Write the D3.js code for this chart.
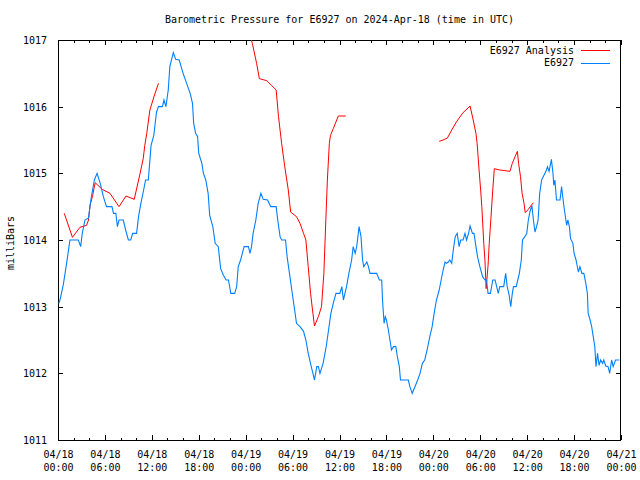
<!DOCTYPE html>
<html><head><meta charset="utf-8">
<script src="https://cdn.jsdelivr.net/npm/d3@7"></script>
<style>
body{margin:0;background:#fff;}
svg{display:block;}
text{font-family:"DejaVu Sans Mono","Liberation Mono",monospace;font-size:10px;fill:#000;}
</style></head><body>
<svg id="chart" width="640" height="480"></svg>
<script>
// ---- data (hours since 2024-04-18 00:00 UTC, pressure in mb) ----
const seriesNames = ["E6927 Analysis", "E6927"];
const blueHours = [0.1,0.25,0.68,1.1,1.53,2.6,2.9,3.1,3.45,3.9,4.2,4.65,5.0,5.4,5.8,6.2,6.9,7.1,7.4,7.6,7.8,8.35,8.65,9.0,9.3,9.55,10.05,10.3,10.6,10.9,11.2,11.55,11.7,11.9,12.25,12.6,12.85,13.35,13.55,13.8,14.1,14.3,14.75,15.05,15.5,16.0,16.45,16.9,17.2,17.35,17.6,17.85,18.0,18.4,18.6,18.9,19.2,19.4,19.8,20.1,20.5,20.8,21.15,21.5,21.8,22.1,22.6,22.85,23.05,23.35,23.8,24.35,24.55,24.75,24.95,25.3,25.6,25.95,26.25,26.8,27.2,27.9,28.1,28.4,28.6,29.1,29.3,29.6,29.9,30.2,30.5,30.95,31.4,31.7,32.0,32.35,32.6,32.8,33.1,33.3,33.5,33.9,34.3,34.6,34.9,35.2,35.55,36.05,36.3,36.5,36.9,37.2,37.55,37.75,38.0,38.2,38.4,38.5,38.75,38.95,39.1,39.5,39.7,39.9,40.75,41.1,41.4,41.5,41.7,41.85,42.0,42.25,42.45,42.65,42.9,43.2,43.4,43.65,43.8,44.8,45.0,45.3,45.65,46.0,46.3,46.6,46.9,47.2,47.55,47.85,48.1,48.4,48.75,49.0,49.25,49.5,49.7,49.9,50.1,50.35,50.55,50.8,51.05,51.3,51.5,51.8,52.05,52.25,52.5,52.7,53.0,53.2,53.45,53.65,53.95,54.3,54.6,54.8,55.0,55.3,55.6,55.9,56.1,56.3,56.5,57.0,57.25,57.45,57.7,57.9,58.1,58.25,58.6,58.8,59.0,59.25,59.4,59.7,59.95,60.15,60.35,60.6,60.8,61.0,61.2,61.4,61.6,61.85,62.15,62.4,62.6,62.8,63.0,63.1,63.3,63.4,63.55,63.75,64.2,64.4,64.6,64.8,65.05,65.2,65.4,65.55,65.85,66.0,66.25,66.55,66.75,67.0,67.25,67.5,67.7,67.8,68.05,68.25,68.45,68.65,68.8,69.0,69.2,69.4,69.65,69.8,70.05,70.35,70.55,70.8,71.0,71.3,71.8];
const bluePressure = [1013.05,1013.1,1013.33,1013.65,1014.0,1014.0,1013.9,1014.1,1014.3,1014.33,1014.6,1014.9,1015.0,1014.85,1014.65,1014.5,1014.5,1014.4,1014.4,1014.2,1014.3,1014.3,1014.15,1014.0,1014.0,1014.1,1014.1,1014.35,1014.55,1014.72,1014.9,1014.9,1015.12,1015.42,1015.57,1015.92,1016.0,1016.0,1016.1,1016.0,1016.25,1016.6,1016.81,1016.71,1016.7,1016.5,1016.35,1016.2,1016.05,1015.75,1015.6,1015.55,1015.3,1015.15,1015.0,1014.9,1014.7,1014.37,1014.2,1013.95,1013.9,1013.57,1013.47,1013.4,1013.4,1013.2,1013.2,1013.3,1013.6,1013.7,1013.9,1013.9,1013.8,1013.9,1014.1,1014.3,1014.55,1014.7,1014.61,1014.6,1014.5,1014.5,1014.3,1014.05,1014.0,1014.0,1013.75,1013.5,1013.25,1013.0,1012.75,1012.7,1012.63,1012.5,1012.3,1012.12,1012.0,1011.9,1012.1,1012.1,1012.0,1012.15,1012.4,1012.65,1012.9,1013.05,1013.2,1013.2,1013.3,1013.1,1013.3,1013.5,1013.7,1013.9,1013.8,1013.9,1014.1,1014.2,1014.05,1013.7,1013.6,1013.67,1013.6,1013.5,1013.5,1013.4,1013.4,1013.1,1012.75,1012.85,1012.8,1012.65,1012.5,1012.35,1012.4,1012.4,1012.25,1012.1,1011.9,1011.9,1011.8,1011.7,1011.8,1011.9,1012.0,1012.15,1012.2,1012.35,1012.55,1012.7,1012.9,1013.1,1013.25,1013.4,1013.55,1013.67,1013.65,1013.67,1013.7,1013.65,1013.85,1014.05,1014.1,1013.9,1014.0,1014.0,1014.1,1014.0,1014.1,1014.21,1014.1,1014.1,1013.9,1013.75,1013.6,1013.45,1013.4,1013.4,1013.2,1013.2,1013.4,1013.4,1013.3,1013.2,1013.3,1013.3,1013.5,1013.3,1013.17,1013.0,1013.2,1013.3,1013.3,1013.4,1013.5,1013.7,1014.0,1014.05,1014.1,1014.3,1014.42,1014.52,1014.3,1014.12,1014.2,1014.3,1014.7,1014.9,1014.97,1015.03,1015.1,1015.03,1015.15,1015.21,1015.0,1014.82,1014.9,1014.6,1014.6,1014.8,1014.6,1014.42,1014.22,1014.3,1014.2,1014.02,1013.95,1013.8,1013.7,1013.52,1013.6,1013.5,1013.5,1013.35,1013.2,1012.9,1012.8,1012.7,1012.55,1012.4,1012.1,1012.3,1012.12,1012.2,1012.15,1012.2,1012.11,1012.1,1012.0,1012.2,1012.1,1012.2,1012.2];
// null separates the analysis segments (gaps)
const redHours = [0.8,1.85,2.8,3.65,3.9,4.1,4.4,4.75,5.65,6.65,7.8,8.7,9.75,10.5,10.9,11.1,11.35,11.75,12.3,12.85,null,
  24.6,24.85,25.4,25.75,26.7,27.3,27.9,28.2,28.6,29.0,29.45,29.75,30.5,30.95,31.4,31.7,32.0,32.3,32.55,32.8,33.3,33.7,34.0,34.3,34.45,34.7,34.85,35.2,35.85,36.8,null,
  48.75,49.25,49.8,50.35,51.0,51.8,52.7,53.1,53.45,53.6,53.85,54.05,54.2,54.45,54.6,54.75,55.0,55.15,55.35,55.6,55.8,56.5,57.8,58.1,58.45,58.75,58.9,59.15,59.35,59.6,59.75,60.15,60.45,60.8];
const redPressure = [1014.4,1014.04,1014.19,1014.22,1014.3,1014.52,1014.65,1014.86,1014.76,1014.7,1014.5,1014.66,1014.61,1015.0,1015.22,1015.42,1015.6,1015.95,1016.16,1016.35,null,
  1017.05,1016.95,1016.65,1016.42,1016.39,1016.32,1016.25,1015.85,1015.45,1015.1,1014.75,1014.42,1014.35,1014.25,1014.1,1014.0,1013.6,1013.2,1012.95,1012.71,1012.85,1013.0,1013.5,1014.45,1014.9,1015.45,1015.57,1015.67,1015.86,1015.86,null,
  1015.48,1015.5,1015.53,1015.65,1015.78,1015.91,1016.01,1015.8,1015.6,1015.45,1015.05,1014.75,1014.5,1013.95,1013.7,1013.27,1013.62,1013.95,1014.3,1014.75,1015.07,1015.05,1015.03,1015.15,1015.25,1015.33,1015.15,1014.95,1014.7,1014.55,1014.41,1014.46,1014.51,1014.56];
const yTicks = [1011,1012,1013,1014,1015,1016,1017];
const titleText = "Barometric Pressure for E6927 on 2024-Apr-18 (time in UTC)";
const yLabel = "milliBars";

// ---- layout ----
const W = 640, H = 480;
const L = 58, R = 621, T = 40, B = 440;
const t0 = Date.UTC(2024,3,18,0,0);
const toDate = h => new Date(t0 + h*3600e3);

const x = d3.scaleUtc().domain([toDate(0), toDate(72)]).range([L, R]);
const y = d3.scaleLinear().domain([1011,1017]).range([B, T]);

const svg = d3.select("#chart");
svg.append("rect").attr("width",W).attr("height",H).attr("fill","#fff");

svg.append("defs").append("clipPath").attr("id","clip")
  .append("rect").attr("x",L).attr("y",T).attr("width",R-L).attr("height",B-T);

// axes with inward ticks
const fmtD = d3.utcFormat("%m/%d"), fmtT = d3.utcFormat("%H:%M");
function styleAxis(g){ g.select(".domain").remove(); g.selectAll("line").attr("stroke","#000").attr("shape-rendering","crispEdges"); }

// minor x ticks (2h)
svg.append("g").attr("transform",`translate(0,${B})`)
  .call(d3.axisBottom(x).ticks(d3.utcHour.every(2)).tickSize(-2.5).tickFormat(""))
  .call(styleAxis);
svg.append("g").attr("transform",`translate(0,${T})`)
  .call(d3.axisTop(x).ticks(d3.utcHour.every(2)).tickSize(-2.5).tickFormat(""))
  .call(styleAxis);
// major x ticks (6h)
const xb = svg.append("g").attr("transform",`translate(0,${B})`)
  .call(d3.axisBottom(x).ticks(d3.utcHour.every(6)).tickSize(-5).tickPadding(0).tickFormat(""))
  .call(styleAxis);
xb.selectAll(".tick").each(function(d){
  const t = d3.select(this).append("text").attr("text-anchor","middle").attr("fill","#000");
  t.append("tspan").attr("x",0).attr("y",18).text(fmtD(d));
  t.append("tspan").attr("x",0).attr("y",31).text(fmtT(d));
});
svg.append("g").attr("transform",`translate(0,${T})`)
  .call(d3.axisTop(x).ticks(d3.utcHour.every(6)).tickSize(-5).tickFormat(""))
  .call(styleAxis);

// y axes
const ya = svg.append("g").attr("transform",`translate(${L},0)`)
  .call(d3.axisLeft(y).tickValues(yTicks).tickSize(-5).tickPadding(11).tickFormat(d3.format("d")))
  .call(styleAxis);
ya.selectAll("text").attr("font-family",null).attr("font-size",null).attr("fill","#000").attr("dy","0.35em");
svg.append("g").attr("transform",`translate(${R},0)`)
  .call(d3.axisRight(y).tickValues(yTicks).tickSize(-5).tickFormat(""))
  .call(styleAxis);

// border
svg.append("rect").attr("x",L+0.5).attr("y",T+0.5).attr("width",R-L-1).attr("height",B-T)
  .attr("fill","none").attr("stroke","#000").attr("shape-rendering","crispEdges");

// lines
const line = d3.line().defined(d => d[1] != null).x(d => x(toDate(d[0]))).y(d => y(d[1]));
const redData = redHours.map((h,i)=>[h, redPressure[i]]);
const blueData = blueHours.map((h,i)=>[h, bluePressure[i]]);
const plot = svg.append("g").attr("clip-path","url(#clip)");
plot.append("path").datum(redData).attr("d",line).attr("fill","none")
  .attr("stroke","#ff0000").attr("stroke-width",1);
plot.append("path").datum(blueData).attr("d",line).attr("fill","none")
  .attr("stroke","#0080ff").attr("stroke-width",1.1);

// title & labels
svg.append("text").attr("x",(L+R)/2).attr("y",23).attr("text-anchor","middle").text(titleText);
svg.append("text").attr("transform","translate(14,243) rotate(-90)").attr("text-anchor","middle").text(yLabel);

// legend
const legColors = ["#ff0000","#0080ff"];
seriesNames.forEach((n,i)=>{
  const yy = 50 + i*12.7;
  svg.append("text").attr("x",574).attr("y",yy).attr("dy","0.35em").attr("text-anchor","end").text(n);
  svg.append("line").attr("x1",581).attr("x2",610).attr("y1",Math.round(yy)+0.5).attr("y2",Math.round(yy)+0.5)
    .attr("stroke",legColors[i]).attr("stroke-width",1);
});
</script>
</body></html>
